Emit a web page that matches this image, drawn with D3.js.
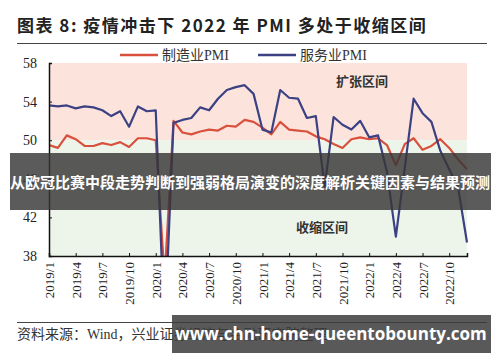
<!DOCTYPE html>
<html>
<head>
<meta charset="utf-8">
<script src="https://cdn.jsdelivr.net/npm/d3@7"></script>
<style>
  body { margin: 0; background: #fff; }
  svg { display: block; }
</style>
</head>
<body>
<svg id="chart" width="500" height="362"></svg>
<script>
// months 2019/1 .. 2022/12
const months = [];
for (let y = 2019; y <= 2022; y++) for (let m = 1; m <= 12; m++) months.push(y + "/" + m);

// 制造业PMI
const mfg = [49.5, 49.2, 50.5, 50.1, 49.4, 49.4, 49.7, 49.5, 49.8, 49.3, 50.2, 50.2,
             50.0, 35.7, 52.0, 50.8, 50.6, 50.9, 51.1, 51.0, 51.5, 51.4, 52.1, 51.9,
             51.3, 50.6, 51.9, 51.1, 51.0, 50.9, 50.4, 50.1, 49.6, 49.2, 50.1, 50.3,
             50.1, 50.2, 49.5, 47.4, 49.6, 50.2, 49.0, 49.4, 50.1, 49.2, 48.0, 47.0];
// 服务业PMI
const svc = [53.6, 53.5, 53.6, 53.3, 53.5, 53.4, 53.1, 52.5, 53.0, 51.4, 53.5, 53.0,
             53.1, 30.1, 51.8, 52.1, 52.3, 53.4, 53.1, 54.3, 55.2, 55.5, 55.7, 54.8,
             51.1, 50.8, 55.2, 54.4, 54.3, 52.3, 52.5, 45.2, 52.4, 51.6, 51.1, 52.0,
             50.3, 50.5, 46.7, 40.0, 47.1, 54.3, 52.8, 51.9, 48.9, 47.0, 45.1, 39.4];

const yTicks = [38, 42, 46, 50, 54, 58];
const xTickLabels = ["2019/1", "2019/4", "2019/7", "2019/10", "2020/1", "2020/4", "2020/7", "2020/10",
                     "2021/1", "2021/4", "2021/7", "2021/10", "2022/1", "2022/4", "2022/7", "2022/10"];

const svg = d3.select("#chart");
const serif = "'Liberation Serif', 'Noto Sans CJK SC', serif";
const cjk = "'Noto Sans CJK SC', sans-serif";

const x = d3.scaleLinear().domain([0, months.length - 1]).range([49, 467]);
const y = d3.scaleLinear().domain([38, 58]).range([256, 63]);

// title
svg.append("text").attr("x", 17).attr("y", 32)
  .style("font-family", cjk).style("font-size", "17px").style("font-weight", "bold")
  .style("letter-spacing", "1.5px").attr("fill", "#222")
  .text("图表 8:  疫情冲击下 2022 年 PMI 多处于收缩区间");
svg.append("line").attr("x1", 17).attr("x2", 487).attr("y1", 43.5).attr("y2", 43.5)
  .attr("stroke", "#444").attr("stroke-width", 1.2);

// background zones
svg.append("rect").attr("x", x(0)).attr("y", y(58)).attr("width", x(47) - x(0)).attr("height", y(50) - y(58))
  .attr("fill", "#fce4dc");
svg.append("rect").attr("x", x(0)).attr("y", y(50)).attr("width", x(47) - x(0)).attr("height", y(38) - y(50))
  .attr("fill", "#edf5ea");

svg.append("text").attr("x", 362).attr("y", 86).attr("text-anchor", "middle")
  .style("font-family", cjk).style("font-size", "13px").style("font-weight", "bold").attr("fill", "#333")
  .text("扩张区间");
svg.append("text").attr("x", 322).attr("y", 232).attr("text-anchor", "middle")
  .style("font-family", cjk).style("font-size", "13px").style("font-weight", "bold").attr("fill", "#333")
  .text("收缩区间");

// lines, clipped to plot area
svg.append("clipPath").attr("id", "plot").append("rect")
  .attr("x", x(0)).attr("y", y(58) - 5).attr("width", x(47) - x(0) + 5).attr("height", y(38) - y(58) + 5);

const line = d3.line().x((d, i) => x(i)).y(d => y(d));
const g = svg.append("g").attr("clip-path", "url(#plot)");
g.append("path").datum(mfg).attr("d", line).attr("fill", "none")
  .attr("stroke", "#d9503d").attr("stroke-width", 2.2).attr("stroke-linejoin", "round");
g.append("path").datum(svc).attr("d", line).attr("fill", "none")
  .attr("stroke", "#3c4184").attr("stroke-width", 2.2).attr("stroke-linejoin", "round");

// axes
const yAxis = svg.append("g").attr("transform", `translate(${x(0)},0)`)
  .call(d3.axisLeft(y).tickValues(yTicks).tickSize(-3).tickPadding(12).tickFormat(d3.format("d")));
const xAxis = svg.append("g").attr("transform", `translate(0,${y(38)})`)
  .call(d3.axisBottom(x).tickValues(d3.range(0, 48, 3)).tickSize(-3).tickFormat((d, i) => xTickLabels[i]));
[yAxis, xAxis].forEach(a => {
  a.select(".domain").attr("stroke", "#111").attr("stroke-width", 1.5);
  a.selectAll(".tick line").attr("stroke", "#111");
  a.selectAll("text").style("font-family", serif).attr("fill", "#222");
});
yAxis.selectAll("text").style("font-size", "14px");
xAxis.selectAll("text").style("font-size", "13px")
  .attr("transform", "rotate(-90)").attr("text-anchor", "end")
  .attr("x", -6).attr("y", 0).attr("dy", "0.35em");

// legend
const legend = [["制造业PMI", "#d9503d", 120], ["服务业PMI", "#3c4184", 258]];
legend.forEach(([name, col, lx]) => {
  svg.append("line").attr("x1", lx).attr("x2", lx + 38).attr("y1", 55).attr("y2", 55)
    .attr("stroke", col).attr("stroke-width", 2.5);
  svg.append("text").attr("x", lx + 42).attr("y", 60)
    .style("font-family", serif).style("font-size", "14px").attr("fill", "#333").text(name);
});

// source
svg.append("line").attr("x1", 17).attr("x2", 487).attr("y1", 322.5).attr("y2", 322.5)
  .attr("stroke", "#444").attr("stroke-width", 1);
svg.append("text").attr("x", 17).attr("y", 339)
  .style("font-family", serif).style("font-size", "14px").attr("fill", "#333")
  .text("资料来源：Wind，兴业证券经济与金融研究院整理");

// overlay banners
svg.append("rect").attr("x", 10).attr("y", 153).attr("width", 481).attr("height", 57)
  .attr("fill", "rgb(55,55,55)").attr("fill-opacity", 0.82);
svg.append("text").attr("x", 250).attr("y", 188).attr("text-anchor", "middle")
  .style("font-family", cjk).style("font-size", "15px").style("font-weight", "bold").attr("fill", "#fff")
  .text("从欧冠比赛中段走势判断到强弱格局演变的深度解析关键因素与结果预测");
svg.append("rect").attr("x", 172).attr("y", 315).attr("width", 319).attr("height", 38)
  .attr("fill", "rgb(60,60,60)").attr("fill-opacity", 0.85);
svg.append("text").attr("x", 331).attr("y", 340).attr("text-anchor", "middle")
  .style("font-family", "'Open Sans', sans-serif").style("font-size", "17px").style("font-weight", "bold").attr("fill", "#fff")
  .text("www.chn-home-queentobounty.com");
</script>
</body>
</html>
